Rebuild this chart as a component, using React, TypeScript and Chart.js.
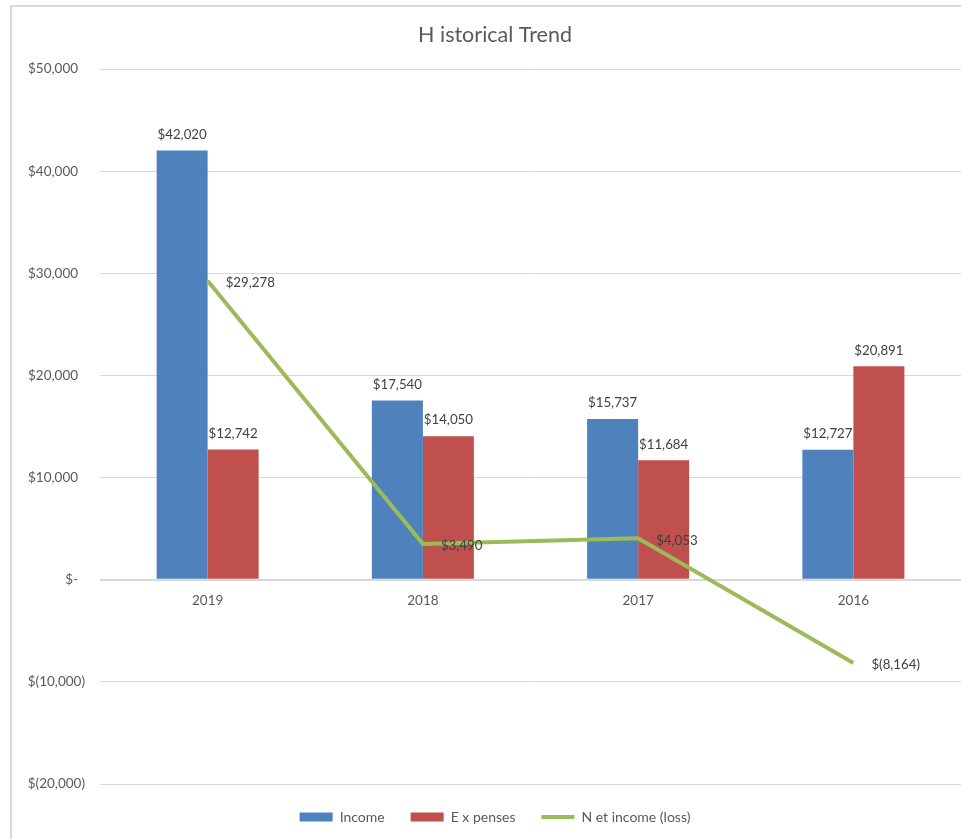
import React, { useEffect, useRef } from "react";
import { Chart, registerables } from "chart.js";

Chart.register(...registerables);

const categories = ["2019", "2018", "2017", "2016"];
const incomeValues = [42020, 17540, 15737, 12727];
const expenseValues = [12742, 14050, 11684, 20891];
const netValues = [29278, 3490, 4053, -8164];
const seriesNames = ["Income", "E x penses", "N et income (loss)"];
const chartTitle = "H istorical Trend";
const yMin = -20000;
const yMax = 50000;
const yStep = 10000;

const FONT = "Lato";
const CANVAS_W = 990;
const CANVAS_H = 850;

function money(v: number): string {
  if (v === 0) return "$-";
  const s = Math.abs(Math.round(v)).toLocaleString("en-US");
  return v < 0 ? `$(${s})` : `$${s}`;
}

// accounting-style axis label: positives leave room for the closing paren
function axisMoney(v: number): string {
  const s = money(v);
  return v < 0 ? s : s + "  ";
}

const framePlugin = {
  id: "frame",
  beforeDraw(chart: any) {
    const ctx = chart.ctx;
    ctx.save();
    ctx.fillStyle = "#ffffff";
    ctx.fillRect(0, 0, chart.width, chart.height);
    ctx.strokeStyle = "#d9d9d9";
    ctx.lineWidth = 2;
    ctx.strokeRect(11, 6, 969, 850);
    ctx.restore();
  },
};

const valueLabelPlugin = {
  id: "valueLabels",
  afterDatasetsDraw(chart: any) {
    const ctx = chart.ctx;
    ctx.save();
    ctx.font = `13.3px ${FONT}`;
    ctx.fillStyle = "#404040";
    ctx.textBaseline = "middle";
    chart.data.datasets.forEach((ds: any, i: number) => {
      const meta = chart.getDatasetMeta(i);
      meta.data.forEach((el: any, j: number) => {
        const v = ds.data[j] as number;
        if (ds.type === "bar") {
          ctx.textAlign = "center";
          ctx.fillText(money(v), el.x, el.y - 16);
        } else {
          ctx.textAlign = "left";
          ctx.fillText(money(v), el.x + 18, el.y + 2);
        }
      });
    });
    ctx.restore();
  },
};

export default function App() {
  const canvasRef = useRef<HTMLCanvasElement | null>(null);

  useEffect(() => {
    if (!canvasRef.current) return;
    const chart = new Chart(canvasRef.current, {
      type: "bar",
      data: {
        labels: categories,
        datasets: [
          {
            type: "bar",
            label: seriesNames[0],
            data: incomeValues,
            backgroundColor: "#4F81BD",
            borderWidth: 0,
            order: 1,
            yAxisID: "y",
          },
          {
            type: "bar",
            label: seriesNames[1],
            data: expenseValues,
            backgroundColor: "#C0504D",
            borderWidth: 0,
            order: 1,
            yAxisID: "y",
          },
          {
            type: "line",
            label: seriesNames[2],
            data: netValues,
            borderColor: "#9BBB59",
            backgroundColor: "#9BBB59",
            borderWidth: 4,
            pointRadius: 0,
            tension: 0,
            fill: false,
            order: 0,
            yAxisID: "y",
          },
        ] as any,
      },
      options: {
        responsive: false,
        animation: false,
        layout: { padding: { left: 10, right: 10, top: 0, bottom: 16 } },
        datasets: {
          bar: { barPercentage: 1, categoryPercentage: 0.474 },
        },
        plugins: {
          tooltip: { enabled: false },
          title: {
            display: true,
            text: chartTitle,
            color: "#595959",
            font: { family: FONT, size: 21.5, weight: "normal" },
            padding: { top: 22.1, bottom: 21.1 },
          },
          legend: {
            display: true,
            position: "bottom",
            labels: {
              usePointStyle: true,
              pointStyleWidth: 33,
              boxHeight: 9,
              padding: 26,
              color: "#595959",
              font: { family: FONT, size: 14 },
              generateLabels: (c: any) =>
                c.data.datasets.map((ds: any, i: number) => ({
                  text: ds.label,
                  datasetIndex: i,
                  fillStyle: ds.type === "line" ? ds.borderColor : ds.backgroundColor,
                  strokeStyle: ds.type === "line" ? ds.borderColor : ds.backgroundColor,
                  lineWidth: ds.type === "line" ? 4 : 0,
                  pointStyle: ds.type === "line" ? "line" : "rect",
                  hidden: false,
                  fontColor: "#595959",
                })),
            },
          },
        },
        scales: {
          x: {
            type: "category",
            position: { y: 0 } as any,
            grid: { display: false, drawTicks: false },
            border: { display: false },
            ticks: {
              color: "#595959",
              font: { family: FONT, size: 13.5 },
              padding: 13,
              maxRotation: 0,
            },
            afterFit: (s: any) => {
              s.height = 0;
            },
          },
          y: {
            type: "linear",
            position: "left",
            min: yMin,
            max: yMax,
            grid: {
              color: "#d9d9d9",
              lineWidth: (ctx: any) => (ctx.tick && ctx.tick.value === 0 ? 2 : 1),
              drawTicks: false,
            },
            border: { display: false },
            ticks: {
              stepSize: yStep,
              color: "#595959",
              font: { family: FONT, size: 13.5 },
              padding: 15,
              callback: (v: any) => axisMoney(Number(v)),
            },
            afterFit: (s: any) => {
              s.width = 90;
            },
          },
          yPad: {
            type: "linear",
            position: "right",
            display: true,
            grid: { display: false, drawTicks: false },
            border: { display: false },
            ticks: { display: false },
            afterFit: (s: any) => {
              s.width = 19;
            },
          },
        },
      } as any,
      plugins: [framePlugin, valueLabelPlugin],
    });
    return () => chart.destroy();
  }, []);

  return (
    <div
      style={{
        position: "fixed",
        left: 0,
        top: 0,
        width: 961,
        height: 839,
        overflow: "hidden",
        background: "#ffffff",
      }}
    >
      <canvas
        ref={canvasRef}
        width={CANVAS_W}
        height={CANVAS_H}
        style={{ display: "block", width: CANVAS_W, height: CANVAS_H }}
      />
    </div>
  );
}
